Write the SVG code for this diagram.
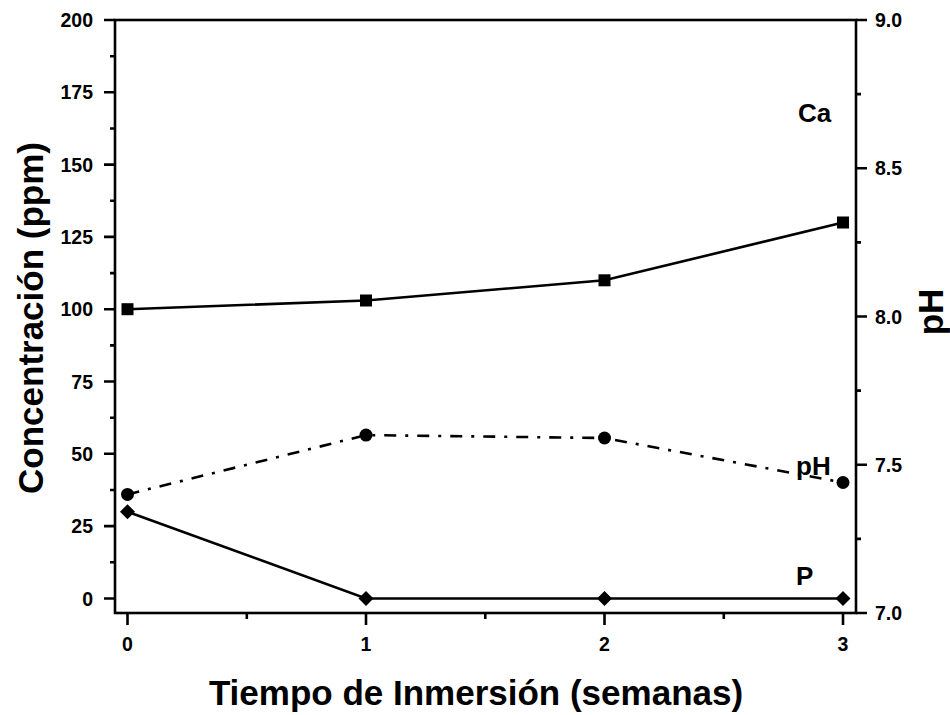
<svg xmlns="http://www.w3.org/2000/svg" width="950" height="715" viewBox="0 0 950 715">
<style>
text{font-family:"Liberation Sans",Arial,sans-serif;font-weight:bold;fill:#000}
.tl{font-size:19.5px}
.title{font-size:35px}
.lab{font-size:26px}
.ax{stroke:#000;stroke-width:2.6;fill:none;stroke-linecap:square}
.tk{stroke:#000;stroke-width:2.6;fill:none}
.ln{stroke:#000;stroke-width:2.6;fill:none}
.dd{stroke-dasharray:12 9 3 9}
</style>
<defs>
<rect id="sq" x="-6" y="-6" width="12" height="12" fill="#000"/>
<circle id="ci" r="6.5" fill="#000"/>
<polygon id="di" points="0,-7.5 7.5,0 0,7.5 -7.5,0" fill="#000"/>
</defs>
<rect width="950" height="715" fill="#fff"/>
<g id="axes">
<rect class="ax" x="115" y="20" width="741" height="593"/>
<g class="tk">
<path d="M104 20H115M104 92.3H115M104 164.6H115M104 236.9H115M104 309.2H115M104 381.5H115M104 453.8H115M104 526.1H115M104 598.5H115"/>
<path d="M110 56.2H115M110 128.5H115M110 200.8H115M110 273.1H115M110 345.4H115M110 417.7H115M110 490H115M110 562.3H115"/>
<path d="M856 20H867M856 168.3H867M856 316.5H867M856 464.8H867M856 613H867"/>
<path d="M856 94.1H861M856 242.4H861M856 390.6H861M856 538.9H861"/>
<path d="M127.5 613V625M366 613V625M604.5 613V625M843 613V625"/>
<path d="M246.8 613V619M485.3 613V619M723.8 613V619"/>
</g>
</g>
<g id="ticklabels" class="tl">
<g text-anchor="end">
<text x="93" y="27">200</text>
<text x="93" y="99.3">175</text>
<text x="93" y="171.6">150</text>
<text x="93" y="243.9">125</text>
<text x="93" y="316.2">100</text>
<text x="93" y="388.5">75</text>
<text x="93" y="460.8">50</text>
<text x="93" y="533.1">25</text>
<text x="93" y="605.5">0</text>
</g>
<g>
<text x="875" y="27">9.0</text>
<text x="875" y="175.3">8.5</text>
<text x="875" y="323.5">8.0</text>
<text x="875" y="471.8">7.5</text>
<text x="875" y="620">7.0</text>
</g>
<g text-anchor="middle">
<text x="127.5" y="651">0</text>
<text x="366" y="651">1</text>
<text x="604.5" y="651">2</text>
<text x="843" y="651">3</text>
</g>
</g>
<g id="titles">
<text class="title" x="476" y="705" text-anchor="middle">Tiempo de Inmersión (semanas)</text>
<text class="title" transform="translate(43,318) rotate(-90)" text-anchor="middle">Concentración (ppm)</text>
<text class="title" transform="translate(943,312) rotate(-90)" text-anchor="middle">pH</text>
</g>
<g id="connectors">
<polyline class="ln" points="127.5,309.2 366,300.5 604.5,280.3 843,222.5"/>
<polyline class="ln dd" points="127.5,494.4 366,435.1 604.5,438 843,482.5"/>
<polyline class="ln" points="127.5,511.7 366,598.5 604.5,598.5 843,598.5"/>
</g>
<g id="Ca">
<use href="#sq" x="127.5" y="309.2"/>
<use href="#sq" x="366" y="300.5"/>
<use href="#sq" x="604.5" y="280.3"/>
<use href="#sq" x="843" y="222.5"/>
<text class="lab" x="798" y="122">Ca</text>
</g>
<g id="pH">
<use href="#ci" x="127.5" y="494.4"/>
<use href="#ci" x="366" y="435.1"/>
<use href="#ci" x="604.5" y="438"/>
<use href="#ci" x="843" y="482.5"/>
<text class="lab" x="796" y="475">pH</text>
</g>
<g id="P">
<use href="#di" x="127.5" y="511.7"/>
<use href="#di" x="366" y="598.5"/>
<use href="#di" x="604.5" y="598.5"/>
<use href="#di" x="843" y="598.5"/>
<text class="lab" x="796" y="585">P</text>
</g>
</svg>
